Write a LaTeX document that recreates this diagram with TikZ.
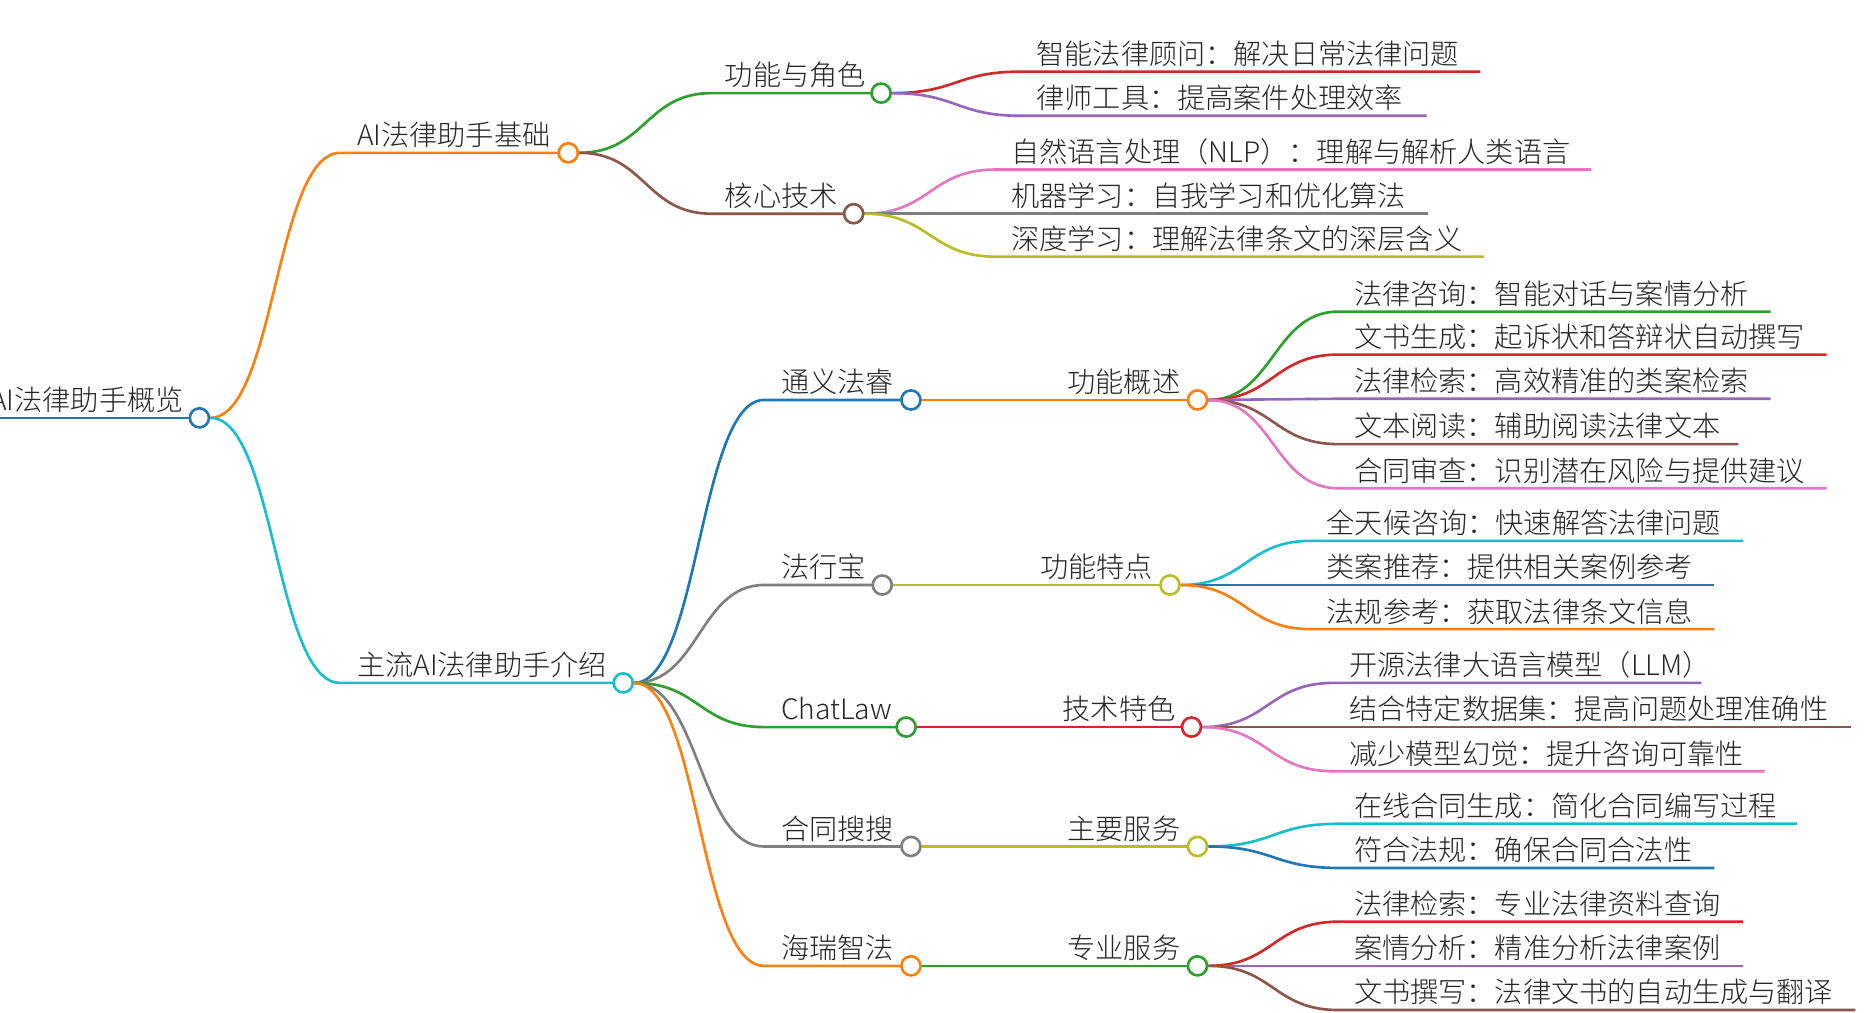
\documentclass[tikz,border=0pt]{standalone}
\usepackage{fontspec}
\setmainfont{Noto Sans CJK SC Light}
\usetikzlibrary{calc}
\pgfdeclarelayer{back}
\pgfdeclarelayer{bg}
\pgfsetlayers{back,bg,main}
\definecolor{cblue}{HTML}{1F77B4}
\definecolor{corange}{HTML}{FF7F0E}
\definecolor{cgreen}{HTML}{2CA02C}
\definecolor{cred}{HTML}{D62728}
\definecolor{cpurple}{HTML}{9467BD}
\definecolor{cbrown}{HTML}{8C564B}
\definecolor{cpink}{HTML}{E377C2}
\definecolor{cgray}{HTML}{7F7F7F}
\definecolor{colive}{HTML}{BCBD22}
\definecolor{ccyan}{HTML}{17BECF}
\tikzset{
  lbl/.style={inner sep=0pt, font=\fontsize{23.6}{26}\selectfont, text=black!85},
  dot/.style={circle, draw=#1, fill=white, line width=2.2pt, minimum size=16pt, inner sep=0pt},
  link/.style={draw=#1, line width=2.2pt}
}
% inner node: #1 name, #2 parent, #3 colour, #4 left x, #5 y, #6 circle x, #7 text x, #8 text
\newcommand\mmnode[8]{%
  \coordinate (#1L) at (#4,#5);
  \node[dot=#3] (#1) at (#6,#5) {};
  \node[lbl, anchor=base west] (#1t) at (#7,{#5-6}) {#8};
  \begin{pgfonlayer}{bg}
  \draw[link=#3] let \p1=(#2.east), \p2=(#1L), \n1={(\x2-\x1)/2} in
    (#2.east) .. controls +(\n1,0) and +(-\n1,0) .. (#1L) -- (#1.center);
  \end{pgfonlayer}
}
% leaf: #1 name, #2 parent, #3 colour, #4 left x, #5 y, #6 end x, #7 text
\newcommand\mmleaf[7]{%
  \coordinate (#1L) at (#4,#5);
  \coordinate (#1R) at (#6,#5);
  \node[lbl, anchor=base west] (#1t) at ({#4+13},{#5-6}) {#7};
  \begin{pgfonlayer}{bg}
  \draw[link=#3] let \p1=(#2.east), \p2=(#1L), \n1={(\x2-\x1)/2} in
    (#2.east) .. controls +(\n1,0) and +(-\n1,0) .. (#1L) -- (#1R);
  \end{pgfonlayer}
}
\begin{document}
\begin{tikzpicture}[x=1pt,y=-1pt]
\useasboundingbox (0,0) rectangle (1568,848);
\begin{pgfonlayer}{back}
\fill[white] (0,0) rectangle (1568,848);
\end{pgfonlayer}
% root
\coordinate (rootL) at (-20,350);
\node[dot=cblue] (root) at (167,350) {};
\node[lbl, anchor=base east] (roott) at (154,344) {AI法律助手概览};
\begin{pgfonlayer}{bg}
\draw[link=cblue] (rootL) -- (root.center);
\end{pgfonlayer}
% level 1
\mmnode{a}{root}{corange}{285}{128}{476}{299}{AI法律助手基础}
\mmnode{b}{root}{ccyan}{285}{572}{522}{299}{主流AI法律助手介绍}
% under a
\mmnode{a1}{a}{cgreen}{596}{78}{738}{607}{功能与角色}
\mmnode{a2}{a}{cbrown}{596}{179}{715}{607}{核心技术}
\mmleaf{a11}{a1}{cred}{855}{60}{1240}{智能法律顾问：解决日常法律问题}
\mmleaf{a12}{a1}{cpurple}{855}{97}{1195}{律师工具：提高案件处理效率}
\mmleaf{a21}{a2}{cpink}{834}{142}{1333}{自然语言处理（NLP）：理解与解析人类语言}
\mmleaf{a22}{a2}{cgray}{834}{179}{1196}{机器学习：自我学习和优化算法}
\mmleaf{a23}{a2}{colive}{834}{215}{1243}{深度学习：理解法律条文的深层含义}
% under b
\mmnode{b1}{b}{cblue}{640}{335}{763}{654}{通义法睿}
\mmnode{b2}{b}{cgray}{640}{490}{739}{654}{法行宝}
\mmnode{b3}{b}{cgreen}{640}{609}{759}{654}{ChatLaw}
\mmnode{b4}{b}{cgray}{640}{709}{763}{654}{合同搜搜}
\mmnode{b5}{b}{corange}{640}{809}{763}{654}{海瑞智法}
% level 3
\mmnode{c1}{b1}{corange}{880}{335}{1003}{894}{功能概述}
\mmnode{c2}{b2}{colive}{857}{490}{980}{871}{功能特点}
\mmnode{c3}{b3}{cred}{876}{609}{998}{890}{技术特色}
\mmnode{c4}{b4}{colive}{880}{709}{1003}{894}{主要服务}
\mmnode{c5}{b5}{cgreen}{880}{809}{1003}{894}{专业服务}
% leaves c1
\mmleaf{c11}{c1}{cgreen}{1121}{261}{1483}{法律咨询：智能对话与案情分析}
\mmleaf{c12}{c1}{cred}{1121}{297}{1530}{文书生成：起诉状和答辩状自动撰写}
\mmleaf{c13}{c1}{cpurple}{1121}{334}{1483}{法律检索：高效精准的类案检索}
\mmleaf{c14}{c1}{cbrown}{1121}{372}{1456}{文本阅读：辅助阅读法律文本}
\mmleaf{c15}{c1}{cpink}{1121}{409}{1530}{合同审查：识别潜在风险与提供建议}
% leaves c2
\mmleaf{c21}{c2}{ccyan}{1098}{453}{1460}{全天候咨询：快速解答法律问题}
\mmleaf{c22}{c2}{cblue}{1098}{490}{1436}{类案推荐：提供相关案例参考}
\mmleaf{c23}{c2}{corange}{1098}{527}{1436}{法规参考：获取法律条文信息}
% leaves c3
\mmleaf{c31}{c3}{cpurple}{1117}{572}{1425}{开源法律大语言模型（LLM）}
\mmleaf{c32}{c3}{cbrown}{1117}{609}{1550}{结合特定数据集：提高问题处理准确性}
\mmleaf{c33}{c3}{cpink}{1117}{646}{1478}{减少模型幻觉：提升咨询可靠性}
% leaves c4
\mmleaf{c41}{c4}{ccyan}{1121}{690}{1505}{在线合同生成：简化合同编写过程}
\mmleaf{c42}{c4}{cblue}{1121}{727}{1436}{符合法规：确保合同合法性}
% leaves c5
\mmleaf{c51}{c5}{cred}{1121}{772}{1460}{法律检索：专业法律资料查询}
\mmleaf{c52}{c5}{cpurple}{1121}{809}{1460}{案情分析：精准分析法律案例}
\mmleaf{c53}{c5}{cbrown}{1121}{846}{1554}{文书撰写：法律文书的自动生成与翻译}
\end{tikzpicture}
\end{document}
